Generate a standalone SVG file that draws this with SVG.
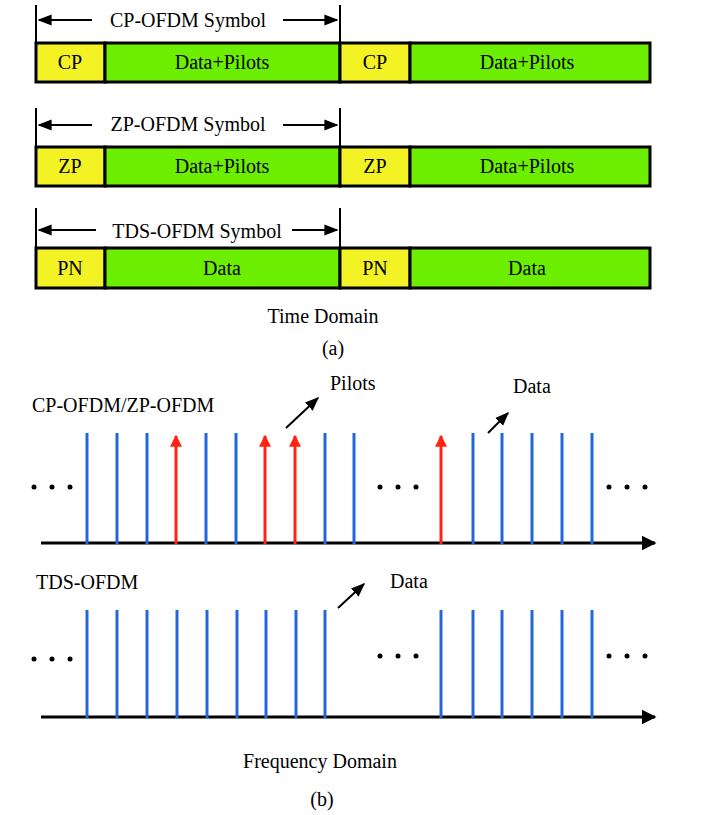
<svg xmlns="http://www.w3.org/2000/svg" width="704" height="815" viewBox="0 0 704 815">
<defs>
<marker id="ah" viewBox="0 0 10 10" refX="9" refY="5" markerWidth="5" markerHeight="5" orient="auto-start-reverse"><path d="M0,0L10,5L0,10z" fill="#000"/></marker>
<marker id="sh" viewBox="0 0 10 10" refX="9" refY="5" markerWidth="7" markerHeight="7" orient="auto"><path d="M0,1L10,5L0,9z" fill="#000"/></marker>
<marker id="rh" viewBox="0 0 10 10" refX="9" refY="5" markerWidth="4" markerHeight="4" orient="auto"><path d="M0,0L10,5L0,10z" fill="#f21"/></marker>
</defs>
<style>
text{font-family:"Liberation Serif",serif;font-size:20px;fill:#000}
.y{fill:#f2f224;stroke:#000;stroke-width:3}
.g{fill:#6cee00;stroke:#000;stroke-width:3}
.v{stroke:#000;stroke-width:2}
.s{stroke:#000;stroke-width:2;marker-end:url(#sh)}
.b{stroke:#2266dd;stroke-width:3}
.r{stroke:#f21;stroke-width:3;marker-end:url(#rh)}
.ax{stroke:#000;stroke-width:3;marker-end:url(#ah)}
.d{fill:#000}
</style>
<g id="row1">
<rect class="y" x="36" y="43" width="69" height="39"/><rect class="g" x="105" y="43" width="235" height="39"/>
<rect class="y" x="340" y="43" width="70" height="39"/><rect class="g" x="410" y="43" width="240" height="39"/>
<text x="70" y="69" text-anchor="middle">CP</text><text x="222" y="69" text-anchor="middle">Data+Pilots</text>
<text x="375" y="69" text-anchor="middle">CP</text><text x="527" y="69" text-anchor="middle">Data+Pilots</text>
<line class="v" x1="36" y1="5" x2="36" y2="43"/><line class="v" x1="340" y1="5" x2="340" y2="43"/>
<text x="188" y="27" text-anchor="middle">CP-OFDM Symbol</text>
</g>
<g id="row2">
<rect class="y" x="36" y="147" width="69" height="39"/><rect class="g" x="105" y="147" width="235" height="39"/>
<rect class="y" x="340" y="147" width="70" height="39"/><rect class="g" x="410" y="147" width="240" height="39"/>
<text x="70" y="173" text-anchor="middle">ZP</text><text x="222" y="173" text-anchor="middle">Data+Pilots</text>
<text x="375" y="173" text-anchor="middle">ZP</text><text x="527" y="173" text-anchor="middle">Data+Pilots</text>
<line class="v" x1="36" y1="108" x2="36" y2="147"/><line class="v" x1="340" y1="108" x2="340" y2="147"/>
<text x="188" y="131" text-anchor="middle">ZP-OFDM Symbol</text>
</g>
<g id="row3">
<rect class="y" x="36" y="248" width="69" height="40"/><rect class="g" x="105" y="248" width="235" height="40"/>
<rect class="y" x="340" y="248" width="70" height="40"/><rect class="g" x="410" y="248" width="240" height="40"/>
<text x="70" y="275" text-anchor="middle">PN</text><text x="222" y="275" text-anchor="middle">Data</text>
<text x="375" y="275" text-anchor="middle">PN</text><text x="527" y="275" text-anchor="middle">Data</text>
<line class="v" x1="36" y1="208" x2="36" y2="248"/><line class="v" x1="340" y1="208" x2="340" y2="248"/>
<text x="197" y="238" text-anchor="middle">TDS-OFDM Symbol</text>
</g>
<text x="323" y="323" text-anchor="middle">Time Domain</text>
<text x="333" y="355" text-anchor="middle">(a)</text>
<g id="connectors">
<line class="s" x1="92" y1="20" x2="39" y2="20"/>
<line class="s" x1="283" y1="20" x2="337" y2="20"/>
<line class="s" x1="92" y1="125" x2="39" y2="125"/>
<line class="s" x1="283" y1="125" x2="337" y2="125"/>
<line class="s" x1="96" y1="230" x2="39" y2="230"/>
<line class="s" x1="292" y1="230" x2="337" y2="230"/>
<line class="ax" x1="41" y1="543" x2="655" y2="543"/>
<line class="ax" x1="41" y1="717" x2="655" y2="717"/>
<line class="s" x1="286" y1="428" x2="318" y2="398"/>
<line class="s" x1="488" y1="433" x2="508" y2="413"/>
<line class="s" x1="338" y1="608" x2="364" y2="584"/>
</g>
<g id="spectrum1">
<g class="b"><line x1="87" y1="433" x2="87" y2="544"/><line x1="117" y1="433" x2="117" y2="544"/><line x1="147" y1="433" x2="147" y2="544"/><line x1="206" y1="433" x2="206" y2="544"/><line x1="236" y1="433" x2="236" y2="544"/><line x1="325" y1="433" x2="325" y2="544"/><line x1="354" y1="433" x2="354" y2="544"/>
<line x1="473" y1="433" x2="473" y2="544"/><line x1="502" y1="433" x2="502" y2="544"/><line x1="532" y1="433" x2="532" y2="544"/><line x1="562" y1="433" x2="562" y2="544"/><line x1="592" y1="433" x2="592" y2="544"/></g>
<line class="r" x1="176" y1="544" x2="176" y2="436"/><line class="r" x1="265" y1="544" x2="265" y2="436"/><line class="r" x1="295" y1="544" x2="295" y2="436"/><line class="r" x1="441" y1="544" x2="441" y2="436"/>
<circle class="d" cx="34" cy="487" r="2.5"/><circle class="d" cx="52" cy="487" r="2.5"/><circle class="d" cx="70" cy="487" r="2.5"/>
<circle class="d" cx="380" cy="487" r="2.5"/><circle class="d" cx="398" cy="487" r="2.5"/><circle class="d" cx="416" cy="487" r="2.5"/>
<circle class="d" cx="609" cy="487" r="2.5"/><circle class="d" cx="627" cy="487" r="2.5"/><circle class="d" cx="645" cy="487" r="2.5"/>
<text x="32" y="412">CP-OFDM/ZP-OFDM</text>
<text x="330" y="390">Pilots</text>
<text x="513" y="393">Data</text>
</g>
<g id="spectrum2">
<g class="b"><line x1="87" y1="610" x2="87" y2="718"/><line x1="117" y1="610" x2="117" y2="718"/><line x1="147" y1="610" x2="147" y2="718"/><line x1="177" y1="610" x2="177" y2="718"/><line x1="207" y1="610" x2="207" y2="718"/><line x1="237" y1="610" x2="237" y2="718"/><line x1="266" y1="610" x2="266" y2="718"/><line x1="296" y1="610" x2="296" y2="718"/><line x1="325" y1="610" x2="325" y2="718"/>
<line x1="441" y1="610" x2="441" y2="718"/><line x1="473" y1="610" x2="473" y2="718"/><line x1="502" y1="610" x2="502" y2="718"/><line x1="532" y1="610" x2="532" y2="718"/><line x1="562" y1="610" x2="562" y2="718"/><line x1="592" y1="610" x2="592" y2="718"/></g>
<circle class="d" cx="34" cy="659" r="2.5"/><circle class="d" cx="52" cy="659" r="2.5"/><circle class="d" cx="70" cy="659" r="2.5"/>
<circle class="d" cx="380" cy="656" r="2.5"/><circle class="d" cx="398" cy="656" r="2.5"/><circle class="d" cx="416" cy="656" r="2.5"/>
<circle class="d" cx="609" cy="656" r="2.5"/><circle class="d" cx="627" cy="656" r="2.5"/><circle class="d" cx="645" cy="656" r="2.5"/>
<text x="36" y="589">TDS-OFDM</text>
<text x="390" y="588">Data</text>
</g>
<text x="320" y="768" text-anchor="middle">Frequency Domain</text>
<text x="322" y="806" text-anchor="middle">(b)</text>
</svg>
